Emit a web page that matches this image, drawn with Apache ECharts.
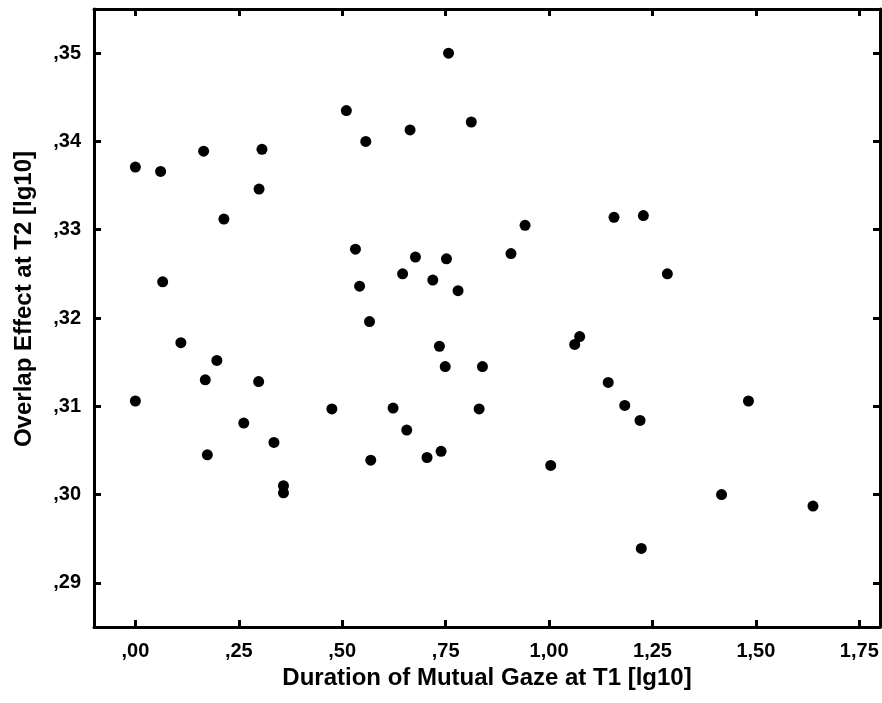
<!DOCTYPE html>
<html>
<head>
<meta charset="utf-8">
<script src="https://cdn.jsdelivr.net/npm/echarts@6/dist/echarts.min.js"></script>
<style>
html,body{margin:0;padding:0;background:#fff;}
#c{width:882px;height:703px;}
</style>
</head>
<body>
<div id="c"></div>
<script>
// Duration of Mutual Gaze at T1 [lg10]
const gazeT1 = [0.00,0.061,0.165,0.306,0.299,0.214,0.066,0.110,0.197,0.169,0.298,0.000,0.262,0.335,0.174,0.358,0.358,
  0.757,0.510,0.812,0.664,0.557,0.532,0.677,0.752,0.646,0.542,0.719,0.780,0.566,0.735,0.749,0.839,0.475,0.623,0.831,
  0.656,0.739,0.705,0.569,0.942,1.157,1.228,0.908,1.286,1.074,1.062,1.143,1.183,1.220,1.004,1.482,1.417,1.638,1.223];
// Overlap Effect at T2 [lg10]
const overlapT2 = [0.3371,0.3366,0.3389,0.3391,0.3346,0.3312,0.3241,0.3172,0.3152,0.3130,0.3128,0.3106,0.3081,0.3059,0.3045,0.3010,0.3002,
  0.3500,0.3435,0.3422,0.3413,0.3400,0.3278,0.3269,0.3267,0.3250,0.3236,0.3243,0.3231,0.3196,0.3168,0.3145,0.3145,0.3097,0.3098,0.3097,
  0.3073,0.3049,0.3042,0.3039,0.3305,0.3314,0.3316,0.3273,0.3250,0.3179,0.3170,0.3127,0.3101,0.3084,0.3033,0.3106,0.3000,0.2987,0.2939];
const xTicks = [0,0.25,0.5,0.75,1.0,1.25,1.5,1.75];
const yTicks = [0.29,0.30,0.31,0.32,0.33,0.34,0.35];
const xRange = [-0.1,1.8];
const yRange = [0.285,0.355];

const points = gazeT1.map((x,i)=>[x,overlapT2[i]]);
const fmt = v => v.toFixed(2).replace('.',',').replace(/^0,/, ',');
const FONT = '"Liberation Sans", Arial, Helvetica, sans-serif';

const lineStyle = {color:'#000', width:3};
function axisBase(vals){
  return {
    axisLine:{show:true, onZero:false, lineStyle},
    axisTick:{show:true, inside:true, length:7, lineStyle, customValues:vals},
    splitLine:{show:false}
  };
}

const chart = echarts.init(document.getElementById('c'));
chart.setOption({
  animation:false,
  backgroundColor:'#fff',
  grid:{left:94, right:2, top:9, bottom:76, containLabel:false},
  xAxis:[
    Object.assign(axisBase(xTicks), {
      type:'value', position:'bottom', min:xRange[0], max:xRange[1],
      name:'Duration of Mutual Gaze at T1 [lg10]', nameLocation:'middle', nameGap:39,
      nameTextStyle:{fontFamily:FONT, fontWeight:'bold', fontSize:24, color:'#000'},
      axisLabel:{show:true, customValues:xTicks, formatter:fmt, margin:14,
        fontFamily:FONT, fontWeight:'bold', fontSize:20, color:'#000'}
    }),
    Object.assign(axisBase(xTicks), {
      type:'value', position:'top', min:xRange[0], max:xRange[1],
      axisLabel:{show:false}
    })
  ],
  yAxis:[
    Object.assign(axisBase(yTicks), {
      type:'value', position:'left', min:yRange[0], max:yRange[1],
      name:'Overlap Effect at T2 [lg10]', nameLocation:'middle', nameGap:58,
      nameTextStyle:{fontFamily:FONT, fontWeight:'bold', fontSize:24, color:'#000', padding:[0,0,0,38]},
      axisLabel:{show:true, customValues:yTicks, formatter:fmt, margin:13,
        fontFamily:FONT, fontWeight:'bold', fontSize:20, color:'#000'}
    }),
    Object.assign(axisBase(yTicks), {
      type:'value', position:'right', min:yRange[0], max:yRange[1],
      axisLabel:{show:false}
    })
  ],
  series:[{
    type:'scatter', data:points, symbol:'circle', symbolSize:11,
    itemStyle:{color:'#000', opacity:1}
  }]
});
</script>
</body>
</html>
